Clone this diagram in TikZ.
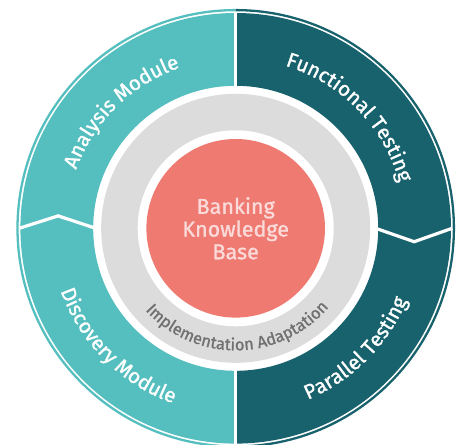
\documentclass[tikz,border=0pt]{standalone}
\usepackage{fontspec}
\setmainfont{Fira Sans}
\newfontfamily\lblfont{Fira Sans}[FakeBold=1.2]
\usetikzlibrary{decorations.text}
\definecolor{lteal}{HTML}{55BEBF}
\definecolor{dteal}{HTML}{17626D}
\definecolor{pinkc}{HTML}{EF7A71}
\definecolor{grayc}{HTML}{DCDCDC}
\definecolor{gtext}{HTML}{707070}
\definecolor{ctext}{HTML}{FBDADA}
\tikzset{
  divider/.style={draw=white, line width=3.2pt},
  ringline/.style={line width=2.3pt},
  arctext/.style={decorate, decoration={text along path, text align=center,
     text={|\lblfont\fontsize{20.5}{20.5}\selectfont\color{white}|#1}}},
  graytext/.style={decorate, decoration={text along path, text align=center,
     text={|\lblfont\fontsize{16.5}{16.5}\selectfont\color{gtext}|#1}}},
}
\begin{document}
\begin{tikzpicture}
\useasboundingbox (0,0) rectangle (459pt,-445pt);
\begin{scope}[shift={(235.7pt,-228.3pt)}]
  % segments
  \fill[lteal] (90:215.3pt) arc[start angle=90,end angle=270,radius=215.3pt]
     -- (270:142.5pt) arc[start angle=270,end angle=90,radius=142.5pt] -- cycle;
  \fill[dteal] (90:215.3pt) arc[start angle=90,end angle=-90,radius=215.3pt]
     -- (-90:142.5pt) arc[start angle=-90,end angle=90,radius=142.5pt] -- cycle;
  % outer thin ring
  \draw[lteal, ringline] (90:218.2pt) arc[start angle=90,end angle=270,radius=218.2pt];
  \draw[dteal, ringline] (90:218.2pt) arc[start angle=90,end angle=-90,radius=218.2pt];
  % dividers
  \draw[divider] (90:140pt) -- (90:216.5pt);
  \draw[divider] (-90:140pt) -- (-90:216.5pt);
  \draw[divider, line join=miter] (180:216.5pt) -- (176:178pt) -- (180:140pt);
  \draw[divider, line join=miter] (0:216.5pt) -- (-4.3:179pt) -- (0:140pt);
  % gray ring
  \fill[grayc] (0,0) circle[radius=134.5pt];
  \fill[white] (0,0) circle[radius=98pt];
  % center
  \node[circle, fill=pinkc, minimum size=178.6pt, inner sep=0pt, align=center,
        text=ctext, font=\lblfont\fontsize{21.5}{22.7}\selectfont] (kb) at (0,0)
        {Banking\\Knowledge\\Base};
  % arc labels
  \path[arctext={Analysis Module}] (164.5:170pt) arc[start angle=164.5,end angle=104.5,radius=170pt];
  \path[arctext={Functional Testing}] (74.3:170pt) arc[start angle=74.3,end angle=14.3,radius=170pt];
  \path[arctext={Parallel Testing}] (-75:186pt) arc[start angle=-75,end angle=-15,radius=186pt];
  \path[arctext={Discovery Module}] (195:186pt) arc[start angle=195,end angle=255,radius=186pt];
  \path[graytext={Implementation Adaptation}] (201:122pt) arc[start angle=201,end angle=341,radius=122pt];
\end{scope}
\end{tikzpicture}
\end{document}
